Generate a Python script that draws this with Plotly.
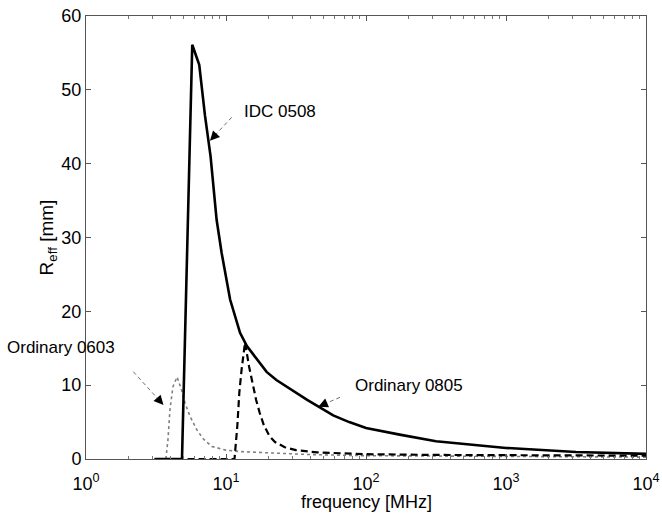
import plotly.graph_objects as go

# ---------------- data ----------------
# IDC 0508 (solid)
idc_freq = [3.09, 4.85, 5.74, 6.44, 7.08, 7.76, 8.57, 9.31, 10.7, 12.6, 14.1,
            15.85, 19.5, 22.9, 27.2, 31.6, 38.0, 46.8, 58.3, 75.9, 100, 174,
            316, 1000, 1738, 3162, 10000]
idc_reff = [0, 0, 56.1, 53.4, 46.5, 41.0, 32.4, 27.9, 21.6, 17.1, 15.3,
            14.0, 11.8, 10.7, 9.8, 8.9, 8.0, 7.0, 5.9, 5.0, 4.2, 3.3,
            2.4, 1.5, 1.2, 0.95, 0.7]

# Ordinary 0805 (dashed)
o805_freq = [3.09, 11.5, 12.05, 12.45, 12.94, 13.68, 14.62, 15.49, 16.41, 17.38,
             18.62, 20.42, 22.39, 26.3, 31.6, 44.7, 100, 316, 1000, 10000]
o805_reff = [0, 0, 4.5, 9.0, 12.2, 15.8, 12.5, 10.2, 8.0, 6.3,
             4.6, 3.1, 2.3, 1.6, 1.2, 0.9, 0.65, 0.55, 0.5, 0.45]

# Ordinary 0603 (dotted)
o603_freq = [3.72, 3.85, 3.98, 4.18, 4.47, 4.79, 5.09, 5.53, 6.17, 6.89,
             7.94, 10, 12.6, 20, 39.8, 100, 1000, 10000]
o603_reff = [0, 2.6, 6.7, 9.8, 11.1, 9.5, 7.6, 5.8, 4.0, 2.7,
             1.7, 1.2, 1.0, 0.8, 0.6, 0.45, 0.3, 0.25]

x_tickvals = [1, 10, 100, 1000, 10000]
x_ticktext = ["10<sup>0</sup>", "10<sup>1</sup>", "10<sup>2</sup>",
              "10<sup>3</sup>", "10<sup>4</sup>"]
y_tickvals = [0, 10, 20, 30, 40, 50, 60]

labels = ["IDC 0508", "Ordinary 0805", "Ordinary 0603"]
x_title = "frequency [MHz]"
y_title = "R<sub>eff</sub> [mm]"

# ---------------- layout geometry ----------------
W, H = 662, 513
L, R, T, B = 86, 16, 16, 54
PW, PH = W - L - R, H - T - B


def px2paper(px, py):
    return (px - L) / PW, (H - B - py) / PH


FONT = "Liberation Sans, Arial, Helvetica, sans-serif"

fig = go.Figure()
fig.add_trace(go.Scatter(x=o603_freq, y=o603_reff, mode="lines", name=labels[2],
                         line=dict(color="#808080", width=1.6, dash="dot")))
fig.add_trace(go.Scatter(x=o805_freq, y=o805_reff, mode="lines", name=labels[1],
                         line=dict(color="black", width=2.2, dash="7px,4px")))
fig.add_trace(go.Scatter(x=idc_freq, y=idc_reff, mode="lines", name=labels[0],
                         line=dict(color="black", width=2.6)))

# annotations: text position, arrow start, arrow tip (pixels)
ann_specs = [
    (labels[0], (280, 111), (231.7, 117.3), (210, 140.7)),
    (labels[1], (409, 385), (340, 397.3), (318.3, 406.7)),
    (labels[2], (61, 347), (133.3, 371.7), (163.5, 405)),
]

annotations = []
shapes = []
for text, tpos, start, tip in ann_specs:
    tx, ty = px2paper(*tpos)
    annotations.append(dict(text=text, x=tx, y=ty, xref="paper", yref="paper",
                            showarrow=False, xanchor="center", yanchor="middle",
                            font=dict(family=FONT, size=17, color="black")))
    dx, dy = start[0] - tip[0], start[1] - tip[1]
    n = (dx * dx + dy * dy) ** 0.5
    ux, uy = dx / n, dy / n
    sx, sy = px2paper(*start)
    ex, ey = px2paper(tip[0] + ux * 6, tip[1] + uy * 6)
    shapes.append(dict(type="line", xref="paper", yref="paper",
                       x0=sx, y0=sy, x1=ex, y1=ey,
                       line=dict(color="#707070", width=1, dash="4px,3px")))
    hx, hy = px2paper(*tip)
    annotations.append(dict(text="", x=hx, y=hy, xref="paper", yref="paper",
                            showarrow=True, arrowhead=2, arrowsize=1.6,
                            arrowwidth=1.2, arrowcolor="black",
                            ax=ux * 10, ay=uy * 10, standoff=0))

# x-axis title
xt_x, xt_y = px2paper(366, 502)
annotations.append(dict(text=x_title, x=xt_x, y=xt_y, xref="paper", yref="paper",
                        showarrow=False, xanchor="center", yanchor="middle",
                        font=dict(family=FONT, size=18, color="black")))

minor_vals = [m * 10 ** d for d in range(0, 4) for m in range(2, 10)]

fig.update_layout(
    width=W, height=H,
    margin=dict(l=L, r=R, t=T, b=B, pad=0, autoexpand=False),
    paper_bgcolor="white", plot_bgcolor="white",
    showlegend=False,
    font=dict(family=FONT, size=17, color="black"),
    annotations=annotations,
    shapes=shapes,
    xaxis=dict(type="log", range=[0, 4], tickmode="array", automargin=False,
               tickvals=x_tickvals, ticktext=x_ticktext, ticklabelstandoff=8,
               ticks="inside", ticklen=5, tickcolor="#555", tickwidth=1,
               showline=True, linecolor="#555", linewidth=1, mirror="ticks",
               showgrid=False, zeroline=False,
               tickfont=dict(family=FONT, size=18, color="black"),
               minor=dict(ticks="inside", ticklen=3, tickcolor="#777",
                          tickmode="array", tickvals=minor_vals, showgrid=False)),
    yaxis=dict(range=[0, 60], tickmode="array", tickvals=y_tickvals, automargin=False,
               ticks="inside", ticklen=5, tickcolor="#555", tickwidth=1,
               showline=True, linecolor="#555", linewidth=1, mirror="ticks",
               showgrid=False, zeroline=False,
               tickfont=dict(family=FONT, size=18, color="black"),
               title=dict(text=y_title, standoff=2,
                          font=dict(family=FONT, size=19, color="black"))),
)

fig.write_html(
    "out.html",
    config={"displayModeBar": False},
    post_script="document.body.style.margin='0';document.body.style.padding='0';",
)
